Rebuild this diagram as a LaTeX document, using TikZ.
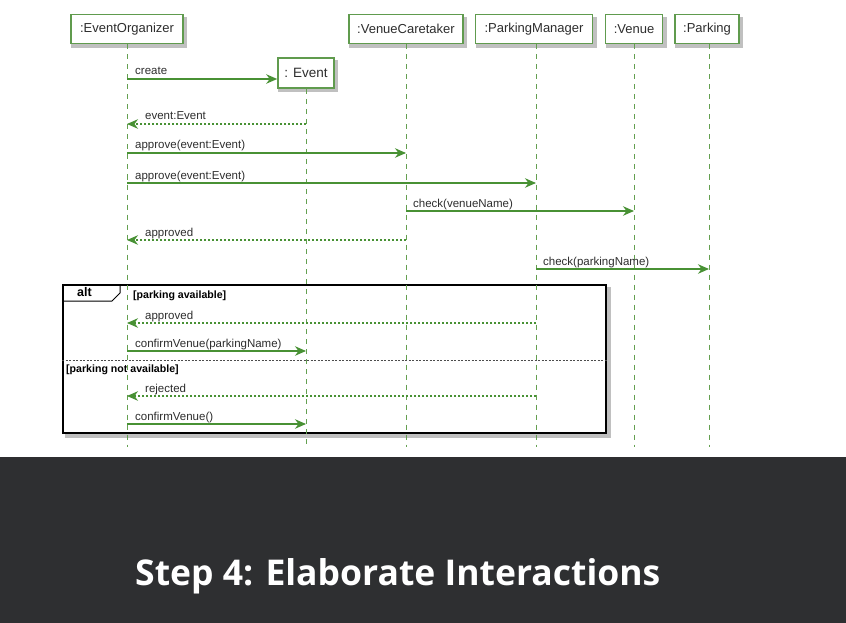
\documentclass[tikz,border=0pt]{standalone}
\usepackage{fontspec}
\setmainfont{Liberation Sans}
\newfontfamily\capfont{Open Sans}
\usetikzlibrary{arrows.meta,backgrounds}
\definecolor{boxgreen}{RGB}{96,155,78}
\definecolor{msggreen}{RGB}{72,145,52}
\definecolor{lifegreen}{RGB}{100,160,80}
\definecolor{txtgray}{RGB}{45,45,45}
\definecolor{band}{RGB}{46,47,49}
\definecolor{shade}{RGB}{150,150,150}
\tikzset{
  part/.style={draw=boxgreen, line width=1.6pt, fill=white, text=txtgray,
    font=\fontsize{13}{15}\selectfont, minimum height=29pt, inner xsep=3pt},
  lifeline/.style={draw=lifegreen, line width=1pt, dash pattern=on 5pt off 5pt},
  msg/.style={draw=msggreen, line width=1.2pt,
    -{Stealth[length=11pt, width=9.5pt, inset=3.5pt]}},
  ret/.style={msg, dash pattern=on 2pt off 2pt},
  lbl/.style={text=txtgray, font=\fontsize{11.5}{13}\selectfont, inner sep=0pt, anchor=base west},
  guard/.style={text=black, font=\bfseries\fontsize{10.6}{12}\selectfont, inner sep=0pt, anchor=base west},
  altframe/.style={draw=black, line width=2pt, fill=white, anchor=north west},
  shadowbox/.style={fill=shade, opacity=0.6},
}
\begin{document}
\begin{tikzpicture}[x=1pt,y=-1pt]
\useasboundingbox (0,0) rectangle (846,623);
\fill[band] (0,457) rectangle (846,623);

% alt frame
\node[altframe, minimum width=543pt, minimum height=148pt] (alt) at (62,284) {};
\draw[black, line width=1pt] (62,301) -- (112,301) -- (120,293) -- (120,284);
\node[font=\bfseries\fontsize{12.5}{14}\selectfont, text=black] (altlbl) at (84.5,292.5) {alt};
\draw[black!70, line width=1pt, dash pattern=on 2pt off 1.5pt] (alt.west |- 0,360) -- (alt.east |- 0,360);
\node[guard] (g1) at (133,298) {[parking available]};
\node[guard] (g2) at (66,372.5) {[parking not available]};

% participants
\node[part, minimum width=112pt] (eo) at (127,29) {:EventOrganizer};
\node[part, minimum width=114pt] (vc) at (406,29) {:VenueCaretaker};
\node[part, minimum width=117pt] (pm) at (534,29) {:ParkingManager};
\node[part, minimum width=57pt] (ve) at (634,29) {:Venue};
\node[part, minimum width=64pt] (pa) at (707,29) {:Parking};
\node[part, minimum width=56pt, minimum height=30pt, font=\fontsize{13.5}{15}\selectfont] (ev) at (306,73) {: Event};

% shadows
\begin{scope}[on background layer]
\foreach \n in {eo,vc,pm,ve,pa,ev}{
  \fill[shadowbox] ([shift={(1,3)}]\n.north west) rectangle ([shift={(3.5,3.5)}]\n.south east);
}
\fill[shadowbox] ([shift={(3,3)}]alt.north west) rectangle ([shift={(4,4)}]alt.south east);
\end{scope}

% lifeline ends
\coordinate (eoE) at (127,447);
\coordinate (evE) at (306,447);
\coordinate (vcE) at (406,447);
\coordinate (pmE) at (536,447);
\coordinate (veE) at (634,447);
\coordinate (paE) at (709,447);
\coordinate (eoT) at (127,44.5);
\coordinate (evT) at (306,89);
\coordinate (vcT) at (406,44.5);
\coordinate (pmT) at (536,44.5);
\coordinate (veT) at (634,44.5);
\coordinate (paT) at (709,44.5);
\draw[lifeline] (eoT) -- (eoE);
\draw[lifeline] (evT) -- (evE);
\draw[lifeline] (vcT) -- (vcE);
\draw[lifeline] (pmT) -- (pmE);
\draw[lifeline] (veT) -- (veE);
\draw[lifeline] (paT) -- (paE);

% message end points
\coordinate (m1a) at (127,79);  \coordinate (m1b) at (ev.west |- 0,79);
\coordinate (m2a) at (306,124); \coordinate (m2b) at (127,124);
\coordinate (m3a) at (127,153); \coordinate (m3b) at (406,153);
\coordinate (m4a) at (127,183); \coordinate (m4b) at (536,183);
\coordinate (m5a) at (406,211); \coordinate (m5b) at (634,211);
\coordinate (m6a) at (406,240); \coordinate (m6b) at (127,240);
\coordinate (m7a) at (536,269); \coordinate (m7b) at (709,269);
\coordinate (m8a) at (536,323); \coordinate (m8b) at (127,323);
\coordinate (m9a) at (127,351); \coordinate (m9b) at (306,351);
\coordinate (m10a) at (536,396); \coordinate (m10b) at (127,396);
\coordinate (m11a) at (127,424); \coordinate (m11b) at (306,424);

\draw[msg] (m1a) -- (m1b);
\draw[ret] (m2a) -- (m2b);
\draw[msg] (m3a) -- (m3b);
\draw[msg] (m4a) -- (m4b);
\draw[msg] (m5a) -- (m5b);
\draw[ret] (m6a) -- (m6b);
\draw[msg] (m7a) -- (m7b);
\draw[ret] (m8a) -- (m8b);
\draw[msg] (m9a) -- (m9b);
\draw[ret] (m10a) -- (m10b);
\draw[msg] (m11a) -- (m11b);

\node[lbl] (l1) at (135,75) {create};
\node[lbl] (l2) at (145,120) {event:Event};
\node[lbl] (l3) at (135,149) {approve(event:Event)};
\node[lbl] (l4) at (135,179) {approve(event:Event)};
\node[lbl] (l5) at (413,207) {check(venueName)};
\node[lbl] (l6) at (145,236) {approved};
\node[lbl] (l7) at (543,265) {check(parkingName)};
\node[lbl] (l8) at (145,319) {approved};
\node[lbl] (l9) at (135,347) {confirmVenue(parkingName)};
\node[lbl] (l10) at (145,392) {rejected};
\node[lbl] (l11) at (135,420) {confirmVenue()};

% caption
\node[text=white, font=\capfont\bfseries\fontsize{35.5}{40}\selectfont, inner sep=0pt, anchor=base west] (cap) at (135,585) {Step 4: Elaborate Interactions};
\end{tikzpicture}
\end{document}
